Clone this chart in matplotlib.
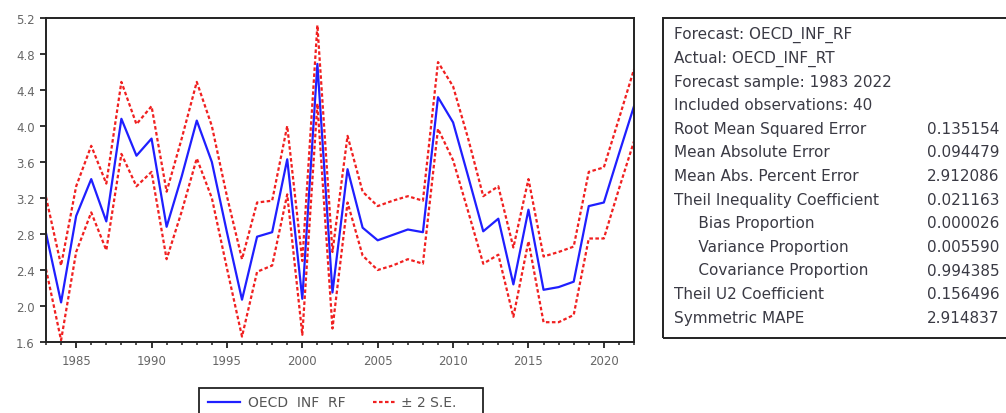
import matplotlib.pyplot as plt
from matplotlib.patches import Rectangle

plt.rcParams['font.family'] = ['DejaVu Sans']

years = list(range(1983, 2023))
forecast = [2.81, 2.04, 3.0, 3.41, 2.94, 4.08, 3.67, 3.86, 2.88, 3.44,
            4.06, 3.6, 2.82, 2.07, 2.77, 2.82, 3.63, 2.08, 4.69, 2.15,
            3.52, 2.87, 2.73, 2.79, 2.85, 2.82, 4.32, 4.04, 3.44, 2.83,
            2.97, 2.24, 3.07, 2.18, 2.21, 2.27, 3.11, 3.15, 3.69, 4.22]
upper = [3.21, 2.45, 3.33, 3.78, 3.36, 4.49, 4.02, 4.22, 3.27, 3.86,
         4.49, 4.0, 3.22, 2.52, 3.15, 3.17, 4.0, 2.5, 5.12, 2.6,
         3.89, 3.27, 3.11, 3.17, 3.22, 3.17, 4.71, 4.44, 3.86, 3.22,
         3.33, 2.65, 3.41, 2.55, 2.6, 2.66, 3.49, 3.54, 4.08, 4.63]
lower = [2.41, 1.62, 2.6, 3.04, 2.62, 3.69, 3.33, 3.49, 2.52, 3.05,
         3.64, 3.2, 2.42, 1.66, 2.38, 2.45, 3.24, 1.68, 4.25, 1.75,
         3.15, 2.56, 2.4, 2.45, 2.52, 2.47, 3.97, 3.62, 3.05, 2.47,
         2.57, 1.88, 2.72, 1.82, 1.82, 1.9, 2.75, 2.75, 3.3, 3.83]

stat_names = ["Forecast: OECD_INF_RF", "Actual: OECD_INF_RT",
              "Forecast sample: 1983 2022", "Included observations: 40",
              "Root Mean Squared Error", "Mean Absolute Error",
              "Mean Abs. Percent Error", "Theil Inequality Coefficient",
              "     Bias Proportion", "     Variance Proportion",
              "     Covariance Proportion", "Theil U2 Coefficient",
              "Symmetric MAPE"]
stat_values = ["", "", "", "", "0.135154", "0.094479", "2.912086",
               "0.021163", "0.000026", "0.005590", "0.994385",
               "0.156496", "2.914837"]

W, H = 1006, 414
fig = plt.figure(figsize=(W / 100, H / 100), dpi=100)
ax = fig.add_axes([46 / W, (H - 343) / H, 588 / W, 324 / H])

blue = '#1f1fff'
red = '#f02020'
dots = (0, (1.6, 1.1))
ax.plot(years, forecast, color=blue, lw=1.6)
ax.plot(years, upper, color=red, lw=1.6, ls=dots)
ax.plot(years, lower, color=red, lw=1.6, ls=dots)

ax.set_xlim(1983, 2022)
ax.set_ylim(1.6, 5.2)
ax.set_yticks([1.6, 2.0, 2.4, 2.8, 3.2, 3.6, 4.0, 4.4, 4.8, 5.2])
ax.set_yticklabels(['1.6', '2.0', '2.4', '2.8', '3.2', '3.6', '4.0', '4.4', '4.8', '5.2'])
ax.set_xticks(range(1985, 2021, 5))
ax.set_xticks(range(1983, 2023), minor=True)
ax.tick_params(axis='both', which='major', direction='out', length=4, width=1.3,
               labelsize=8.5, labelcolor='#666666', color='#222222')
ax.tick_params(axis='x', which='minor', direction='out', length=2.5, width=1.1, color='#222222')
ax.tick_params(axis='x', pad=5)
ax.tick_params(axis='y', pad=4)
for s in ax.spines.values():
    s.set_linewidth(1.4)
    s.set_color('#222222')

# legend under the plot
fig.patches.append(Rectangle((199 / W, (H - 425) / H), 284 / W, 36 / H,
                             transform=fig.transFigure, fill=False,
                             edgecolor='#222222', lw=1.3))
ly = (H - 403) / H
fig.add_artist(plt.Line2D([208 / W, 240 / W], [ly, ly], color=blue, lw=1.6))
fig.text(248 / W, ly, "OECD  INF  RF", fontsize=10, color='#555555', va='center')
fig.add_artist(plt.Line2D([373 / W, 397 / W], [ly, ly], color=red, lw=1.6, ls=dots))
fig.text(401 / W, ly, "\u00b1 2 S.E.", fontsize=10, color='#555555', va='center')

# statistics box
fig.patches.append(Rectangle((663 / W, (H - 339) / H), 400 / W, 320 / H,
                             transform=fig.transFigure, fill=False,
                             edgecolor='#222222', lw=1.4))
for i, (name, val) in enumerate(zip(stat_names, stat_values)):
    y = (H - (35 + i * 23.6)) / H
    fig.text(674 / W, y, name, fontsize=11, color='#3a3a44', va='center')
    if val:
        fig.text(927 / W, y, val, fontsize=11, color='#3a3a44', va='center')

fig.savefig('out.png', dpi=100)
